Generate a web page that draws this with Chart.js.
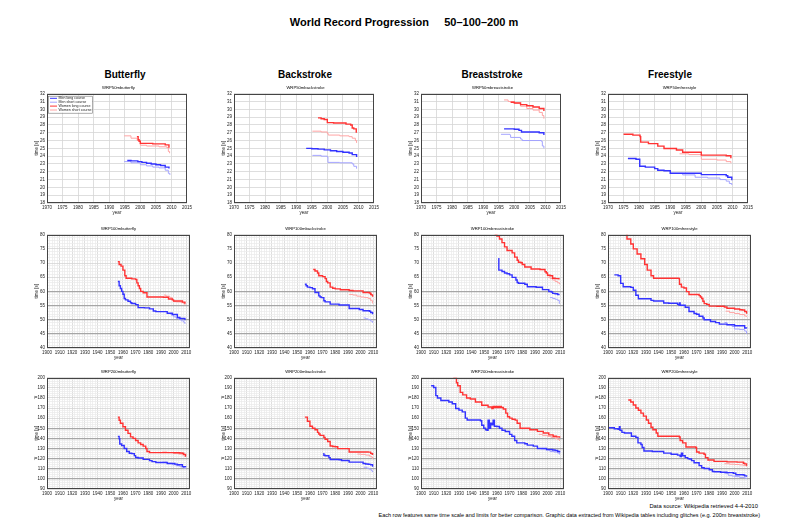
<!DOCTYPE html>
<html>
<head>
<meta charset="utf-8">
<script src="https://cdn.jsdelivr.net/npm/chart.js@4.4.0/dist/chart.umd.min.js"></script>
<style>
  body { margin: 0; background: #fff; width: 800px; height: 526px; position: relative; overflow: hidden; font-family: "Liberation Sans", Arial, sans-serif; }
  .t { position: absolute; white-space: nowrap; color: #000; }
  canvas { position: absolute; }
</style>
</head>
<body>
<div class="t" style="left:0;width:808px;top:16px;text-align:center;font-size:11px;font-weight:bold">World Record Progression&nbsp;&nbsp;&nbsp;&nbsp;&nbsp;50–100–200 m</div>
<div class="t" style="right:42px;top:503px;font-size:5.8px">Data source: Wikipedia retrieved 4-4-2010</div>
<div class="t" style="right:40px;top:512px;font-size:5.5px">Each row features same time scale and limits for better comparison. Graphic data extracted from Wikipedia tables including glitches (e.g. 200m breaststroke)</div>
<script>
// ---- data: [year, time in s] ----
const strokes = ['Butterfly', 'Backstroke', 'Breaststroke', 'Freestyle'];
const seriesNames = ['Men long course', 'Men short course', 'Women long course', 'Women short course'];

// 50 m
const fly50MenLC = [[1995.8,23.45],[1997,23.4],[1999.2,23.3],[2000.5,23.2],[2002,23.1],[2003.5,23.0],[2005,22.9],[2006.5,22.8],[2008,22.6],[2009.2,22.43]];
const fly50MenSC = [[1994.8,23.3],[1997,23.15],[2000,22.9],[2002,22.75],[2004,22.6],[2006,22.5],[2008,22.2],[2009,21.8],[2009.5,21.6]];
const fly50WomenLC = [[1998.9,26.5],[1999.3,26.1],[1999.6,25.9],[2000,25.64],[2004,25.57],[2008,25.45],[2009.2,25.07]];
const fly50WomenSC = [[1994.8,26.6],[1997,26.3],[1999,26.0],[2000,25.4],[2002,25.3],[2006,25.2],[2008.5,25.1],[2009,24.6],[2009.4,24.38]];

const back50MenLC = [[1993.2,25.0],[1995,24.95],[1997,24.9],[1999,24.8],[2001,24.7],[2003,24.6],[2005,24.5],[2007,24.4],[2008,24.2],[2009.4,23.9]];
const back50MenSC = [[1995.2,24.1],[1998,24.0],[2000,23.9],[2000.2,23.2],[2004,23.15],[2008,23.0],[2008.5,22.7],[2009.4,22.4]];
const back50WomenLC = [[1997,28.9],[1998,28.8],[1999,28.7],[2000,28.3],[2002,28.25],[2006,28.1],[2007.5,28.0],[2008,27.6],[2008.5,27.5],[2009.3,27.0]];
const back50WomenSC = [[1995.2,27.2],[1998,27.1],[2000,26.9],[2000.3,26.7],[2004,26.6],[2007,26.5],[2008,26.3],[2009,26.0],[2009.4,25.7]];

const breast50MenLC = [[1996.7,27.5],[2000,27.45],[2001.5,27.3],[2002.3,27.1],[2008,27.0],[2009.5,26.7]];
const breast50MenSC = [[1995.7,26.8],[1998.6,26.7],[1998.8,26.4],[2002,26.2],[2002.5,26.0],[2008.7,25.9],[2009,25.3],[2009.5,25.0]];
const breast50WomenLC = [[1998.8,30.9],[2000,30.8],[2002,30.6],[2004,30.45],[2006,30.3],[2008,30.1],[2009.5,29.8]];
const breast50WomenSC = [[1996.7,31.2],[1998,31.0],[2000,30.8],[2002,30.4],[2004,30.1],[2006,29.9],[2008,29.6],[2009,29.2],[2009.5,28.8]];

const free50MenLC = [[1976.4,23.7],[1979,23.6],[1980.2,22.7],[1982,22.6],[1985,22.4],[1986,22.2],[1988,22.14],[1990,21.81],[2000,21.64],[2008,21.5],[2008.5,21.3],[2009.8,20.91]];
const free50MenSC = [[1990,21.8],[1994,21.6],[1998,21.3],[2002,21.2],[2006,21.0],[2008,20.8],[2009,20.5],[2009.8,20.3]];
const free50WomenLC = [[1975,26.8],[1978,26.7],[1980.3,26.5],[1980.5,25.8],[1983,25.6],[1986,25.28],[1988,24.98],[1992,24.79],[1994,24.51],[2000,24.13],[2008,24.06],[2009.5,23.73]];
const free50WomenSC = [[1993,24.3],[1996,24.2],[2000,23.6],[2005,23.5],[2008,23.3],[2009.5,23.1]];

// 100 m
const fly100MenLC = [[1956,63.5],[1957,62],[1958,61],[1959,60],[1960,59],[1961,57.5],[1962,57],[1964,56.5],[1966,56],[1967,55.7],[1970,55.3],[1972,54.27],[1977,54.18],[1981,53.81],[1984,53.08],[1986,52.84],[1995,52.27],[1999,51.81],[2003,50.76],[2005,50.4],[2009,49.82]];
const fly100MenSC = [[1995,52.2],[1998,51.7],[2000,51.0],[2002,50.5],[2004,50.1],[2006,49.6],[2008,49.1],[2009,48.5]];
const fly100WomenLC = [[1956,70.5],[1957,69.5],[1958.5,68.9],[1960,67.5],[1961.5,65.5],[1962.5,64.6],[1967,64.4],[1970,64.2],[1971,63],[1972,62],[1973,61],[1974,60],[1976,59.5],[1979,58.0],[1992,57.9],[1996,57.3],[1999,57.0],[2000,56.6],[2007,56.2],[2009,55.6]];
const fly100WomenSC = [[1992.5,58.7],[1994,58.3],[1997,57.8],[1999,57.0],[2000,56.4],[2002,56.3],[2006,56.0],[2008,55.7],[2009,55.1]];

const back100MenLC = [[1956,62.5],[1957,62],[1958,61.5],[1960,61.3],[1962,60.9],[1964,59.6],[1967,58.4],[1968,58.0],[1969,57.8],[1971,56.7],[1972,56.3],[1976,55.49],[1983,55.19],[1991,53.93],[1999,53.6],[2002,53.17],[2007,52.98],[2008,52.54],[2009.5,51.94]];
const back100MenSC = [[2002.5,50.6],[2004,50.3],[2006,50.0],[2008,49.5],[2009.5,48.9]];
const back100WomenLC = [[1962.6,67.7],[1964,67.2],[1966,66.5],[1967,65.5],[1970,65.2],[1972,64.5],[1973,63.5],[1974,63.0],[1976,61.5],[1978,61.1],[1980,60.86],[1984,60.59],[1991,60.31],[1994,60.16],[2002,59.58],[2007,59.44],[2008,59.0],[2008.5,58.77],[2009.5,58.12]];
const back100WomenSC = [[1991,58.9],[1994,58.7],[1997,58.3],[2000,58.0],[2003,57.8],[2006,57.5],[2008,56.7],[2009.5,55.7]];

const breast100MenLC = [[1961,71.5],[1961.5,67.5],[1964,67.0],[1966,66.5],[1968,66.2],[1970,65.8],[1972,64.94],[1975,64.0],[1976,63.11],[1977,62.86],[1982,62.5],[1984,61.65],[1991,61.45],[1996,60.6],[2001,59.97],[2003,59.78],[2004,59.3],[2006,59.13],[2008,58.91],[2009,58.58]];
const breast100MenSC = [[2002,57.8],[2004,57.5],[2006,57.2],[2008,56.8],[2009.3,55.6]];
const breast100WomenLC = [[1957,81],[1958.7,80],[1960,79.5],[1962,78.5],[1964,77.2],[1966,75.7],[1968,74.4],[1972,73.6],[1974,72.1],[1976,71.0],[1977,70.3],[1979,70.1],[1980,69.5],[1982,68.6],[1987,67.9],[1994,67.7],[1998,66.9],[1999,66.5],[2000,65.7],[2002,65.5],[2004,64.6],[2006,64.5],[2009,64.2]];
const breast100WomenSC = [[2000,65.0],[2002,64.5],[2004,64.0],[2006,63.5],[2008,63.0],[2009.5,62.5]];

const free100MenLC = [[1905,65.8],[1908,65.5],[1910,62.8],[1912,61.6],[1918,61.4],[1920,60.4],[1922,58.6],[1924,57.4],[1934,56.8],[1936,56.6],[1944,55.9],[1948,55.8],[1955,55.4],[1956,55.2],[1956.5,55.9],[1957,55.1],[1961,54.4],[1964,52.9],[1968,52.2],[1970,51.94],[1972,51.22],[1975,50.59],[1976,49.99],[1981,49.36],[1985,48.95],[1988,48.42],[1994,48.21],[2000,47.84],[2008,47.05],[2009.5,46.91]];
const free100MenSC = [[1992,49.0],[1994,48.2],[1998,47.6],[2000,46.7],[2004,46.5],[2008,46.0],[2009.5,45.0]];
const free100WomenLC = [[1912,80.5],[1915,78.5],[1918,76.7],[1920,75.0],[1923,73.2],[1926,71.5],[1929,69.5],[1931,67.5],[1934,65.5],[1936,64.6],[1956,64.5],[1956.5,62.5],[1958,61.5],[1960,61.2],[1962,59.9],[1964,58.9],[1972,58.5],[1973,58.0],[1974,57.5],[1975,56.5],[1976,55.65],[1978,55.41],[1980,54.79],[1986,54.73],[1992,54.48],[1994,54.01],[2000,53.77],[2004,53.52],[2006,53.42],[2008,52.88],[2009.5,52.07]];
const free100WomenSC = [[1993,53.0],[1996,52.5],[2000,52.2],[2004,51.8],[2008,51.3],[2009.5,51.0]];

// 200 m
const fly200MenLC = [[1956,142],[1957,139.6],[1957.5,134.5],[1959,133],[1961,130],[1963,127],[1965,125.4],[1967,125],[1969,123],[1970,121.2],[1972,120.7],[1976,119.23],[1981,118.01],[1983,117.05],[1986,116.24],[1995,115.22],[2001,114.58],[2003,113.93],[2007,112.09],[2008,112.03],[2009.5,111.51]];
const fly200MenSC = [[1991,116.5],[1995,115.5],[1999,114.0],[2002,113.0],[2005,112.0],[2008,110.5],[2009.5,109.9]];
const fly200WomenLC = [[1956,161],[1957,158],[1958,155],[1960,151.5],[1962,148],[1964,145],[1966,141.5],[1968,140],[1970,138],[1972,135.6],[1974,134],[1976,132.4],[1978,130],[1979,127],[1981,125.96],[2000,125.81],[2002,125.78],[2005,125.61],[2007,125.4],[2008,124.18],[2009.5,121.81]];
const fly200WomenSC = [[1991,126.5],[1995,126.0],[2000,125.5],[2004,124.5],[2007,123.5],[2009,121.5]];

const back200MenLC = [[1970.5,125.0],[1971,123.4],[1972,122.82],[1975,121.0],[1976,119.19],[1983,118.86],[1985,118.14],[1991,116.57],[2002,115.15],[2004,114.74],[2006,114.44],[2007,114.32],[2008,113.94],[2009.5,111.92]];
const back200MenSC = [[2002.5,111.5],[2005,110.5],[2007,109.5],[2008.5,108.0],[2009.5,106.7]];
const back200WomenLC = [[1956,161],[1958,157],[1960,152],[1962,150],[1964,148.5],[1966,146],[1967,144.4],[1968,143],[1971,141],[1972,139.19],[1974,137],[1976,132.47],[1978,131.93],[1980,131.77],[1982,129.91],[1991,126.62],[2006,126.4],[2008,125.24],[2009,124.81],[2009.5,123.5]];
const back200WomenSC = [[1997.5,124.5],[2000,124.2],[2004,123.5],[2007,122.5],[2008.5,121.5],[2009.5,119.6]];

const breast200MenLC = [[1908,192],[1910,190.3],[1911.7,182.3],[1913,180],[1915.7,177.5],[1922,176],[1924.7,174.3],[1927.4,169.5],[1930,168],[1932.6,166.2],[1935,160],[1936.5,158.2],[1947,157.5],[1948,153],[1949.6,150.1],[1951,148.5],[1952.2,147.9],[1953,158],[1954,150],[1955,155],[1956,153.4],[1957,158],[1958,152],[1960,151.7],[1962,150],[1964,148],[1966.6,146.9],[1970,144],[1971.8,142.1],[1974,138],[1975.7,135.6],[1982,134.77],[1984,133.34],[1988.7,132.4],[1992,130.16],[1999.2,129.2],[2002,129.0],[2004,128.5],[2006,128.0],[2008,127.0],[2009.5,126.0]];
const breast200MenSC = [[1991.5,129.5],[1995,129],[1999,128],[2002,127],[2005,126.5],[2008,125.5],[2009.5,124.0]];
const breast200WomenLC = [[1925,203],[1926,200],[1928,195],[1929,192],[1931,185.5],[1933,183],[1936,180],[1939,179],[1943,176],[1948,172.7],[1953,171],[1956,169.5],[1957,171.5],[1964,171.5],[1957.5,170.5],[1964,170.5],[1965,169],[1967,165],[1968.4,161.4],[1970,160],[1972,159],[1974.4,158.1],[1976,155],[1978.3,150.1],[1986,148.5],[1992,147],[1996.6,145.3],[2001,143.5],[2004.4,142.1],[2007,141.5],[2009.5,140.6]];
const breast200WomenSC = [[1993,144],[1996,143],[2000,142],[2003,141],[2006,140],[2008,139],[2009.5,137.5]];

const free200MenLC = [[1898,150.5],[1905,149.5],[1908,149],[1909,151.5],[1909.5,148],[1911,146],[1913,145.3],[1918.5,142.1],[1922,141],[1923.7,135.6],[1926,134],[1927,131],[1928.4,127.6],[1935,127],[1944,125.5],[1949.9,124.4],[1955,123.5],[1957,122],[1958,125.4],[1959,122.8],[1961,121],[1963,120],[1964.2,119.6],[1966,118],[1968,116],[1972,113.1],[1974,111],[1976,110.3],[1980,109],[1982.5,107.3],[1984,107.0],[1989,106.6],[1994,106.2],[1999,105.5],[2001,104.06],[2007,103.86],[2008,102.96],[2009.5,102.0]];
const free200MenSC = [[1992,105.5],[1995,103.5],[1998,102.8],[2000,102.2],[2004,101.5],[2008,100.8],[2009.5,100.0]];
const free200WomenLC = [[1916,178],[1918,176],[1920,173],[1922,170],[1924,167.8],[1926,165],[1928,162],[1930.3,158.2],[1932,155],[1934,151],[1935.5,148.5],[1938.1,145.3],[1939.4,142.1],[1956.4,141.4],[1957,138],[1959,135.6],[1961.6,131.5],[1969.5,130.8],[1970,126.6],[1972,125.5],[1975.9,124.4],[1977,121],[1979,118.6],[1983.8,117.3],[1994,116.8],[2002,116.6],[2007,115.5],[2008,114.8],[2009.5,113.0]];
const free200WomenSC = [[1992,115],[1996,114.5],[2000,114.2],[2004,113.8],[2007,113.3],[2009.5,112.0]];

// axis tick values per row
const row50YearTicks = [1970, 1975, 1980, 1985, 1990, 1995, 2000, 2005, 2010, 2015];
const row50TimeTicks = [18, 19, 20, 21, 22, 23, 24, 25, 26, 27, 28, 29, 30, 31, 32];
const row100TimeRefs = [45, 50, 55, 60];
const row200TimeRefs = [100, 110, 120, 130, 140, 150];

const panels = [
  ['WRP50mbutterfly', fly50MenLC, fly50MenSC, fly50WomenLC, fly50WomenSC],
  ['WRP50mbackstroke', back50MenLC, back50MenSC, back50WomenLC, back50WomenSC],
  ['WRP50mbreaststroke', breast50MenLC, breast50MenSC, breast50WomenLC, breast50WomenSC],
  ['WRP50mfreestyle', free50MenLC, free50MenSC, free50WomenLC, free50WomenSC],
  ['WRP100mbutterfly', fly100MenLC, fly100MenSC, fly100WomenLC, fly100WomenSC],
  ['WRP100mbackstroke', back100MenLC, back100MenSC, back100WomenLC, back100WomenSC],
  ['WRP100mbreaststroke', breast100MenLC, breast100MenSC, breast100WomenLC, breast100WomenSC],
  ['WRP100mfreestyle', free100MenLC, free100MenSC, free100WomenLC, free100WomenSC],
  ['WRP200mbutterfly', fly200MenLC, fly200MenSC, fly200WomenLC, fly200WomenSC],
  ['WRP200mbackstroke', back200MenLC, back200MenSC, back200WomenLC, back200WomenSC],
  ['WRP200mbreaststroke', breast200MenLC, breast200MenSC, breast200WomenLC, breast200WomenSC],
  ['WRP200mfreestyle', free200MenLC, free200MenSC, free200WomenLC, free200WomenSC]
];

// ---- layout ----
const colLeft = [47, 234, 421, 608];
const plotW = 143;
const rows = [
  { top: 91, h: 112, xMin: 1970, xMax: 2015, xStep: 5, xMajor: 5, yMin: 18, yMax: 32, yStep: 1, yMajor: 1, refs: [] },
  { top: 232, h: 116, xMin: 1900, xMax: 2013, xStep: 2, xMajor: 10, yMin: 40, yMax: 80, yStep: 1, yMajor: 5, refs: row100TimeRefs },
  { top: 375, h: 114, xMin: 1900, xMax: 2013, xStep: 2, xMajor: 10, yMin: 90, yMax: 200, yStep: 2, yMajor: 10, refs: row200TimeRefs }
];
const colors = ['#3333ff', '#a4a4ff', '#ff3333', '#ffa4a4'];
const widths = [1.4, 1, 1.4, 1];
// axis box is narrow so the y title sits close to the tick labels; extra left room lets long labels overflow
const padExtra = 16, yAxisW = 13, padR = 4, padT = 2, padB = 12;
const tickFont = { family: 'Liberation Sans', size: 4.5 };

function range(a, b, s) { const r = []; for (let v = a; v <= b + 1e-9; v += s) r.push(Math.round(v * 100) / 100); return r; }

const framePlugin = {
  id: 'frame',
  afterDraw(chart) {
    const a = chart.chartArea, c = chart.ctx;
    c.save(); c.strokeStyle = '#444'; c.lineWidth = 1;
    c.strokeRect(Math.round(a.left) + 0.5, Math.round(a.top) + 0.5, Math.round(a.right - a.left) - 1, Math.round(a.bottom - a.top) - 1);
    c.restore();
  }
};

const legendPlugin = {
  id: 'boxLegend',
  afterDraw(chart) {
    const a = chart.chartArea, c = chart.ctx;
    const x = a.left + 1, y = a.top + 2, w = 44, h = 17;
    c.save();
    c.fillStyle = '#fff'; c.fillRect(x, y, w, h);
    c.strokeStyle = '#777'; c.lineWidth = 0.6; c.strokeRect(x + 0.5, y + 0.5, w, h);
    c.font = '3.6px "Liberation Sans"'; c.textBaseline = 'middle';
    seriesNames.forEach((n, i) => {
      const yy = y + 2.6 + i * 3.9;
      c.strokeStyle = colors[i]; c.lineWidth = 1;
      c.beginPath(); c.moveTo(x + 2, yy); c.lineTo(x + 9, yy); c.stroke();
      c.fillStyle = '#222'; c.fillText(n, x + 10.5, yy);
    });
    c.restore();
  }
};

function addText(txt, x, y, size, bold, align) {
  const d = document.createElement('div');
  d.className = 't';
  d.textContent = txt;
  d.style.fontSize = size + 'px';
  if (bold) d.style.fontWeight = 'bold';
  d.style.top = y + 'px';
  d.style.left = (x - 100) + 'px';
  d.style.width = '200px';
  d.style.textAlign = align || 'center';
  document.body.appendChild(d);
}

const headerX = [125, 305, 492, 670];
strokes.forEach((s, i) => addText(s, headerX[i], 69, 10, true));

panels.forEach((p, k) => {
  const r = Math.floor(k / 4), col = k % 4;
  const R = rows[r];
  const padL = padExtra + yAxisW;
  const W = plotW + padL + padR, H = R.h + padT + padB;
  const cv = document.createElement('canvas');
  cv.width = W; cv.height = H;
  cv.style.left = (colLeft[col] - padL) + 'px';
  cv.style.top = (R.top - padT) + 'px';
  cv.style.width = W + 'px'; cv.style.height = H + 'px';
  document.body.appendChild(cv);
  addText(p[0], colLeft[col] + plotW / 2, R.top - 6, 4.2, false);

  const xTicks = r === 0 ? row50YearTicks : range(R.xMin, R.xMax, R.xStep);
  const yTicks = r === 0 ? row50TimeTicks : range(R.yMin, R.yMax, R.yStep);
  const order = [0, 2, 1, 3];
  const datasets = order.map(i => ({
    label: seriesNames[i],
    data: p[i + 1].map(q => ({ x: q[0], y: q[1] })),
    borderColor: colors[i],
    borderWidth: widths[i],
    pointRadius: 0,
    stepped: true,
    fill: false
  }));

  new Chart(cv, {
    type: 'line',
    data: { datasets },
    plugins: k === 0 ? [framePlugin, legendPlugin] : [framePlugin],
    options: {
      responsive: false,
      animation: false,
      devicePixelRatio: 1,
      layout: { padding: { top: padT, right: padR, left: padExtra, bottom: 0 } },
      plugins: { legend: { display: false }, tooltip: { enabled: false } },
      scales: {
        x: {
          type: 'linear', min: R.xMin, max: R.xMax,
          afterFit: s => { s.height = padB; },
          afterBuildTicks: s => { s.ticks = xTicks.map(v => ({ value: v })); },
          ticks: { autoSkip: false, maxRotation: 0, font: tickFont, color: '#222', padding: 2,
            callback: v => (v % R.xMajor === 0 ? String(v) : '') },
          grid: { drawTicks: false,
            color: c => (c.tick && c.tick.value % R.xMajor === 0 ? '#d6d6d6' : '#ececec'),
            lineWidth: 0.8 },
          border: { display: false },
          title: { display: true, text: 'year', font: tickFont, color: '#222', padding: 0 }
        },
        y: {
          type: 'linear', min: R.yMin, max: R.yMax,
          afterFit: s => { s.width = yAxisW; },
          afterBuildTicks: s => { s.ticks = yTicks.map(v => ({ value: v })); },
          ticks: { autoSkip: false, font: tickFont, color: '#222', padding: 2,
            callback: v => {
              if (v % R.yMajor !== 0) return '';
              if (r === 2 && v === 180) return '(3min)=180';
              if (r === 2 && v === 120) return '(2min)=120';
              return String(v);
            } },
          grid: { drawTicks: false,
            color: c => {
              const v = c.tick ? c.tick.value : 0;
              if (R.refs.includes(v)) return '#a6a6a6';
              return v % R.yMajor === 0 ? '#d6d6d6' : '#ececec';
            },
            lineWidth: c => (c.tick && R.refs.includes(c.tick.value) ? 1.2 : 0.8) },
          border: { display: false },
          title: { display: true, text: 'time [s]', font: tickFont, color: '#222', padding: 0 }
        }
      }
    }
  });
});
</script>
</body>
</html>
